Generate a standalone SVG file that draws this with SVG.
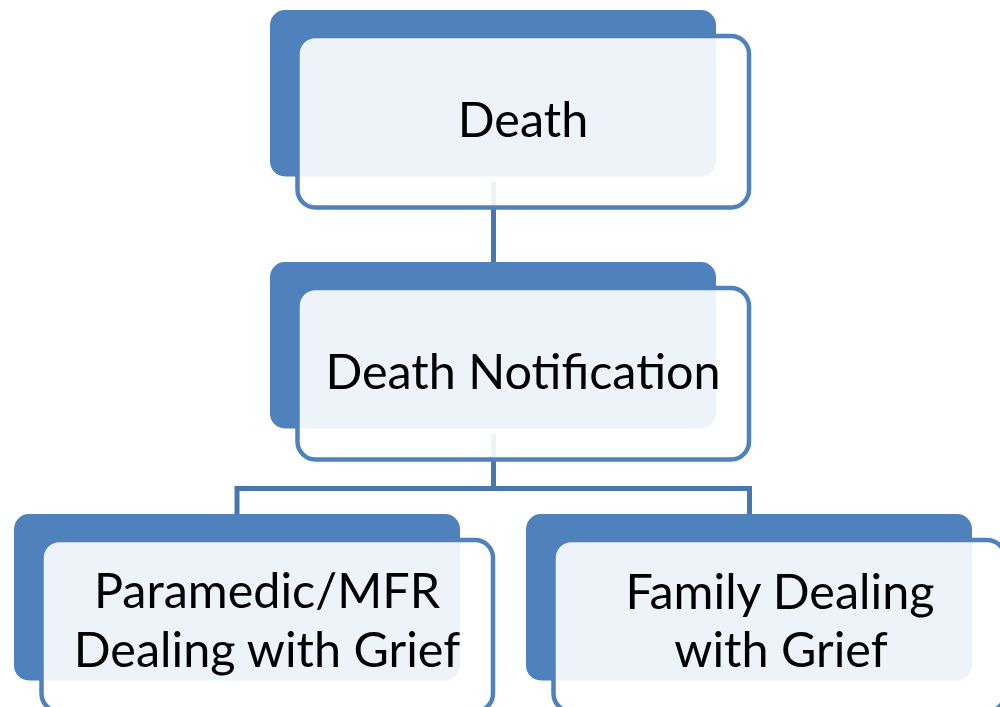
<svg xmlns="http://www.w3.org/2000/svg" width="1000" height="707" viewBox="0 0 1000 707">
<style>
.back{fill:#4F81BD;}
.front{fill:#FFFFFF;fill-opacity:0.9;stroke:#4F81BD;stroke-width:4.5;}
.conn{fill:none;stroke:#4877B0;stroke-width:5;}
.lbl{font-family:Lato,"Open Sans",sans-serif;font-size:48.5px;fill:#000000;text-anchor:middle;}
</style>
<rect width="1000" height="707" fill="#FFFFFF"/>
<g id="back-shapes">
<rect class="back" x="270" y="10" width="446" height="166.5" rx="15"/>
<rect class="back" x="270" y="262" width="446" height="166.5" rx="15"/>
<rect class="back" x="14" y="514" width="446" height="166.5" rx="15"/>
<rect class="back" x="526" y="514" width="446" height="166.5" rx="15"/>
</g>
<g id="connectors">
<path class="conn" d="M493.5 182 V262"/>
<path class="conn" d="M493.5 434 V488.5 M237 514 V488.5 H749.5 V514"/>
</g>
<g id="node-death">
<rect class="front" x="297.5" y="36" width="451.5" height="171.5" rx="18"/>
<text class="lbl" x="523" y="137">Death</text>
</g>
<g id="node-notification">
<rect class="front" x="297.5" y="288" width="451.5" height="171.5" rx="18"/>
<text class="lbl" x="523" y="389">Death Notification</text>
</g>
<g id="node-paramedic">
<rect class="front" x="41.5" y="540" width="451.5" height="171.5" rx="18"/>
<text class="lbl" x="267" y="608">Paramedic/MFR</text>
<text class="lbl" x="267" y="667">Dealing with Grief</text>
</g>
<g id="node-family">
<rect class="front" x="553.5" y="540" width="451.5" height="171.5" rx="18"/>
<text class="lbl" x="780" y="609">Family Dealing</text>
<text class="lbl" x="781" y="667">with Grief</text>
</g>
</svg>
